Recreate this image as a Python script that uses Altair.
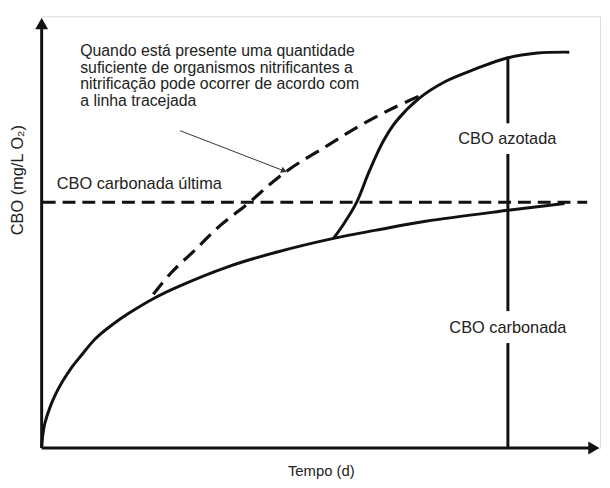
import altair as alt
import pandas as pd

# --- values (x: time, y: BOD, both on a 0-100 relative scale) ---
carb_x = [0, 0.18, 0.53, 1.42, 2.48, 3.72, 5.32, 6.74, 9.75, 12.77, 15.6, 20.39, 24.47, 33.33, 42.2, 52.48, 59.93, 68.79, 83.51, 93.62]
carb_y = [0, 2.75, 5.5, 9.17, 12.39, 15.37, 18.58, 20.87, 25.46, 28.67, 31.19, 34.86, 37.39, 41.97, 45.41, 48.62, 50.46, 52.52, 55.05, 56.65]

nit_x = [52.3, 54.3, 56.4, 58.7, 61.2, 63.5, 67.6, 72.3, 77.7, 83.5, 88.8, 94.5]
nit_y = [48.6, 52.3, 56.9, 64.2, 71.1, 75.7, 81.0, 84.9, 87.8, 90.4, 91.5, 91.7]

dash_x = [20.0, 23.2, 27.5, 31.6, 37.2, 41.0, 44.5, 51.1, 56.9, 62.9, 68.3]
dash_y = [35.6, 40.6, 45.9, 51.1, 56.9, 61.2, 64.7, 70.0, 74.6, 78.7, 81.9]

ult_y = 56.9
ult_x = [0.2, 97.7]

vert_x = 83.5
vert_y1 = [90.6, 68.1, 24.3]
vert_y2 = [75.2, 31.7, 0.0]

note_lines = [
    "Quando está presente uma quantidade",
    "suficiente de organismos nitrificantes a",
    "nitrificação pode ocorrer de acordo com",
    "a linha tracejada",
]
note_x = 6.9
note_y = [92.0, 88.1, 84.2, 80.3]

arrow_x = [24.8, 43.4]
arrow_y = [73.5, 64.2]

labels = ["CBO azotada", "CBO carbonada"]
label_x = [83.4, 83.5]
label_y = [71.6, 27.8]
ult_label = "CBO carbonada última"
ult_label_x = 2.7
ult_label_y = 61.2

# axis lines (with arrow heads) in the same relative units
axis_x_end = 98.9
axis_y_end = 98.3

x_title = "Tempo (d)"
y_title = "CBO (mg/L O₂)"

FONT = "Liberation Sans"
INK = "#111111"
TXT = "#222222"
FS = 16.5
FS_NOTE = 16

xs = alt.Scale(domain=[0, 100], nice=False, zero=False)
ys = alt.Scale(domain=[0, 100], nice=False, zero=False)

x_axis = alt.Axis(title=x_title, labels=False, ticks=False, grid=False, domain=False,
                  titleFont=FONT, titleFontSize=15, titleFontWeight="normal",
                  titleColor=TXT, titlePadding=16)
y_axis = alt.Axis(title=y_title, labels=False, ticks=False, grid=False, domain=False,
                  titleFont=FONT, titleFontSize=FS, titleFontWeight="normal",
                  titleColor=TXT, titleX=-24, titleY=165, titleBaseline="middle",
                  titleAngle=270, titleAlign="center")


def X(field="x"):
    return alt.X(f"{field}:Q", scale=xs, axis=x_axis)


def Y(field="y"):
    return alt.Y(f"{field}:Q", scale=ys, axis=y_axis)


axes = alt.Chart(pd.DataFrame({"x": [0.0, 0.0], "x2": [axis_x_end, 0.0],
                               "y": [0.0, 0.0], "y2": [0.0, axis_y_end]})).mark_rule(
    color=INK, strokeWidth=3
).encode(x=X(), x2="x2:Q", y=Y(), y2="y2:Q")

axis_heads = alt.Chart(pd.DataFrame({"x": [0.0, axis_x_end], "y": [axis_y_end, 0.0],
                                     "s": ["triangle-up", "triangle-right"]})).mark_point(
    size=170, filled=True, color=INK, opacity=1
).encode(x=X(), y=Y(), shape=alt.Shape("s:N", scale=None, legend=None))

carb = alt.Chart(pd.DataFrame({"x": carb_x, "y": carb_y})).mark_line(
    color=INK, strokeWidth=3, interpolate="catmull-rom"
).encode(x=X(), y=Y())

nit = alt.Chart(pd.DataFrame({"x": nit_x, "y": nit_y})).mark_line(
    color=INK, strokeWidth=3, interpolate="catmull-rom"
).encode(x=X(), y=Y())

dash = alt.Chart(pd.DataFrame({"x": dash_x, "y": dash_y})).mark_line(
    color=INK, strokeWidth=3.2, strokeDash=[15, 8], interpolate="catmull-rom"
).encode(x=X(), y=Y())

ult = alt.Chart(pd.DataFrame({"x": [ult_x[0]], "x2": [ult_x[1]], "y": [ult_y]})).mark_rule(
    color=INK, strokeWidth=3, strokeDash=[13, 7]
).encode(x=X(), x2="x2:Q", y=Y())

vert = alt.Chart(pd.DataFrame({"x": [vert_x] * 3, "y": vert_y1, "y2": vert_y2})).mark_rule(
    color=INK, strokeWidth=3
).encode(x=X(), y=Y(), y2="y2:Q")

arrow_line = alt.Chart(pd.DataFrame({"x": arrow_x, "y": arrow_y})).mark_line(
    color="#333333", strokeWidth=1
).encode(x=X(), y=Y())

arrow_head = alt.Chart(pd.DataFrame({"x": [arrow_x[1]], "y": [arrow_y[1]]})).mark_point(
    shape="triangle-right", size=45, filled=True, color="#333333", opacity=1, angle=24
).encode(x=X(), y=Y())

note = alt.Chart(pd.DataFrame({"x": [note_x] * 4, "y": note_y, "t": note_lines})).mark_text(
    align="left", baseline="middle", font=FONT, fontSize=FS_NOTE, color=TXT
).encode(x=X(), y=Y(), text="t:N")

lab = alt.Chart(pd.DataFrame({"x": label_x, "y": label_y, "t": labels})).mark_text(
    align="center", baseline="middle", font=FONT, fontSize=FS, color=TXT
).encode(x=X(), y=Y(), text="t:N")

ult_lab = alt.Chart(pd.DataFrame({"x": [ult_label_x], "y": [ult_label_y], "t": [ult_label]})).mark_text(
    align="left", baseline="middle", font=FONT, fontSize=FS, color=TXT
).encode(x=X(), y=Y(), text="t:N")

chart = alt.layer(
    axes, axis_heads, carb, nit, dash, ult, vert, arrow_line, arrow_head, note, lab, ult_lab
).properties(
    width=564, height=436, autosize="none",
    padding={"left": 34, "top": 6, "right": 2, "bottom": 34},
).configure_view(stroke=None).configure(background="white")

chart.save("out.html", embed_options={"renderer": "svg", "actions": False})
